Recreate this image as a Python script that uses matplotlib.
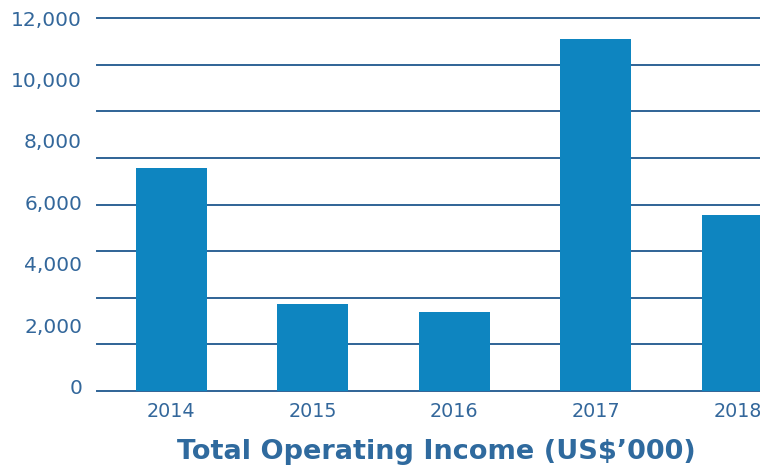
import matplotlib
matplotlib.use("Agg")
import matplotlib.pyplot as plt
import numpy as np

years = ["2014", "2015", "2016", "2017", "2018"]
income = [7174, 2799, 2542, 11324, 5662]
ytick_vals = [0, 2000, 4000, 6000, 8000, 10000, 12000]
ytick_labels = ["0", "2,000", "4,000", "6,000", "8,000", "10,000", "12,000"]
grid_vals = list(range(0, 12001, 1500))

bar_color = "#0E85C0"
grid_color = "#2F6396"
text_color = "#33679B"

fig = plt.figure(figsize=(7.6, 4.75), dpi=100)
ax = fig.add_axes([96.7 / 760, 1 - 391 / 475, 1 - 96.7 / 760, (391 - 18) / 475])

x = np.arange(len(years))
ax.bar(x, income, width=0.5, color=bar_color, zorder=3)

ax.set_xlim(-0.527, 4.16)
ax.set_ylim(0, 12000)

# gridlines
for g in grid_vals:
    ax.axhline(g, color=grid_color, lw=1.4, zorder=2, clip_on=False)

for s in ax.spines.values():
    s.set_visible(False)

label_pos = 138 + np.array(ytick_vals) * (12000 - 138) / 12000
ax.set_yticks(label_pos)
ax.set_yticklabels(ytick_labels)
ax.set_xticks(x)
ax.set_xticklabels(years)
ax.tick_params(axis="y", length=0, pad=10.5, labelsize=14.5, labelcolor=text_color)
ax.tick_params(axis="x", length=0, pad=8, labelsize=13.8, labelcolor=text_color)
for lab in ax.get_yticklabels() + ax.get_xticklabels():
    lab.set_fontfamily("DejaVu Sans")

fig.text(436 / 760, 1 - 459 / 475, "Total Operating Income (US$\u2019000)",
         ha="center", va="baseline", fontsize=19.5, fontweight="bold",
         color="#2F6A9E", fontfamily="DejaVu Sans")

fig.savefig("out.png", dpi=100)
